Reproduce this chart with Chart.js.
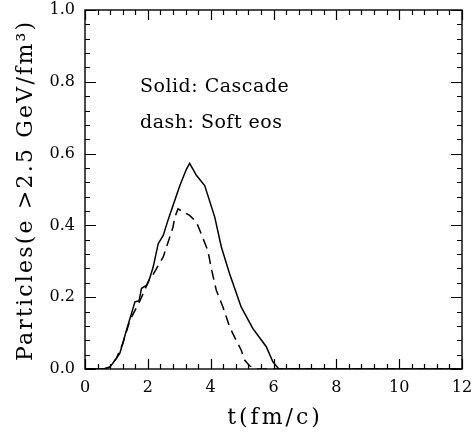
<!DOCTYPE html>
<html><head><meta charset="utf-8">
<script src="https://cdn.jsdelivr.net/npm/chart.js@4"></script>
<style>html,body{margin:0;padding:0;background:#fff}#wrap{width:474px;height:436px}</style>
</head><body><div id="wrap"><canvas id="c"></canvas></div>
<script>
const solidT = [0,0.6,0.8,1.0,1.11,1.32,1.59,1.72,1.8,1.96,2.05,2.17,2.33,2.49,2.64,2.75,3.02,3.23,3.33,3.55,3.81,4.13,4.34,4.6,4.97,5.34,5.77,5.98,6.17,12];
const solidY = [0,0,0.006,0.03,0.044,0.108,0.187,0.19,0.225,0.233,0.25,0.284,0.349,0.372,0.414,0.442,0.511,0.557,0.573,0.539,0.511,0.423,0.34,0.266,0.173,0.113,0.062,0.02,0,0];
const dashT = [0,0.6,0.8,1.0,1.2,1.43,1.75,1.85,2.06,2.12,2.49,2.8,2.86,2.96,3.33,3.55,3.76,3.91,4.02,4.18,4.39,4.6,4.81,4.97,5.08,5.25,5.5,12];
const dashY = [0,0,0.006,0.03,0.07,0.136,0.19,0.21,0.252,0.256,0.312,0.395,0.423,0.446,0.428,0.409,0.363,0.33,0.28,0.219,0.173,0.118,0.08,0.053,0.025,0.008,0,0];
const seriesNames = ["Cascade","Soft eos"];
const notes = ["Solid: Cascade","dash: Soft eos"];
const xTitle = "t(fm/c)";
const yTitle = "Particles(e >2.5 GeV/fm\u00B3)";

const FONT = "'DejaVu Serif', serif";
const toPts = (xs, ys) => xs.map((x,i)=>({x, y: ys[i]}));

function spacedText(ctx, text, x, y, spacing){
  ctx.letterSpacing = spacing + 'px';
  const w = ctx.measureText(text).width - spacing;
  ctx.textAlign = 'left';
  ctx.fillText(text, x - w/2, y);
  ctx.letterSpacing = '0px';
}

const frame = {
  id:'frame',
  afterDatasetsDraw(chart){
    const {ctx, chartArea:a, scales:{x, y}} = chart;
    ctx.save();
    ctx.strokeStyle='#000'; ctx.lineWidth=1.4;
    ctx.strokeRect(a.left, a.top, a.right-a.left, a.bottom-a.top);
    ctx.lineWidth=1.2;
    ctx.beginPath();
    for (let i=0;i<=30;i++){
      const v=i*0.4, px=Math.round(x.getPixelForValue(v))+0.5;
      const L = (i%5===0)?10:5;
      ctx.moveTo(px,a.bottom); ctx.lineTo(px,a.bottom-L);
      ctx.moveTo(px,a.top); ctx.lineTo(px,a.top+L);
    }
    for (let i=0;i<=25;i++){
      const v=i*0.04, py=Math.round(y.getPixelForValue(v))+0.5;
      const L = (i%5===0)?11:5;
      ctx.moveTo(a.left,py); ctx.lineTo(a.left+L,py);
      ctx.moveTo(a.right,py); ctx.lineTo(a.right-L,py);
    }
    ctx.stroke();
    ctx.fillStyle='#000';
    ctx.font = "19px "+FONT;
    ctx.textBaseline='alphabetic'; ctx.textAlign='left';
    ctx.letterSpacing='0.5px';
    ctx.fillText(notes[0], x.getPixelForValue(1.75), y.getPixelForValue(0.772));
    ctx.fillText(notes[1], x.getPixelForValue(1.75), y.getPixelForValue(0.672));
    ctx.letterSpacing='0px';
    ctx.font = "22px "+FONT;
    ctx.textBaseline='alphabetic';
    spacedText(ctx, xTitle, (a.left+a.right)/2, 424, 3);
    ctx.save();
    ctx.translate(32, (a.top+a.bottom)/2 + 2);
    ctx.rotate(-Math.PI/2);
    spacedText(ctx, yTitle, 0, 0, 2.2);
    ctx.restore();
    ctx.restore();
  }
};

new Chart(document.getElementById('c'), {
  type:'scatter',
  data:{datasets:[
    {label:seriesNames[0], data:toPts(solidT,solidY), showLine:true, borderColor:'#000', borderWidth:1.5, pointRadius:0, tension:0},
    {label:seriesNames[1], data:toPts(dashT,dashY), showLine:true, borderColor:'#000', borderWidth:1.5, borderDash:[10,6], pointRadius:0, tension:0}
  ]},
  options:{
    responsive:true, maintainAspectRatio:false, animation:false,
    layout:{padding:{top:10,right:12,left:0,bottom:0}},
    plugins:{legend:{display:false}, tooltip:{enabled:false}},
    scales:{
      x:{type:'linear', min:0, max:12,
        grid:{display:false, drawTicks:false}, border:{display:false},
        ticks:{stepSize:2, color:'#000', font:{family:FONT, size:16}, padding:9, maxRotation:0,
          callback:v=>String(v)},
        title:{display:false, text:xTitle},
        afterFit:s=>{s.height=67; s.paddingLeft=0; s.paddingRight=0;}
      },
      y:{type:'linear', min:0, max:1,
        grid:{display:false, drawTicks:false}, border:{display:false},
        ticks:{stepSize:0.2, color:'#000', font:{family:FONT, size:16}, padding:10,
          callback:v=>Number(v).toFixed(1)},
        title:{display:false, text:yTitle},
        afterFit:s=>{s.width=85; s.paddingTop=0; s.paddingBottom=0;}
      }
    }
  },
  plugins:[frame]
});
</script></body></html>
